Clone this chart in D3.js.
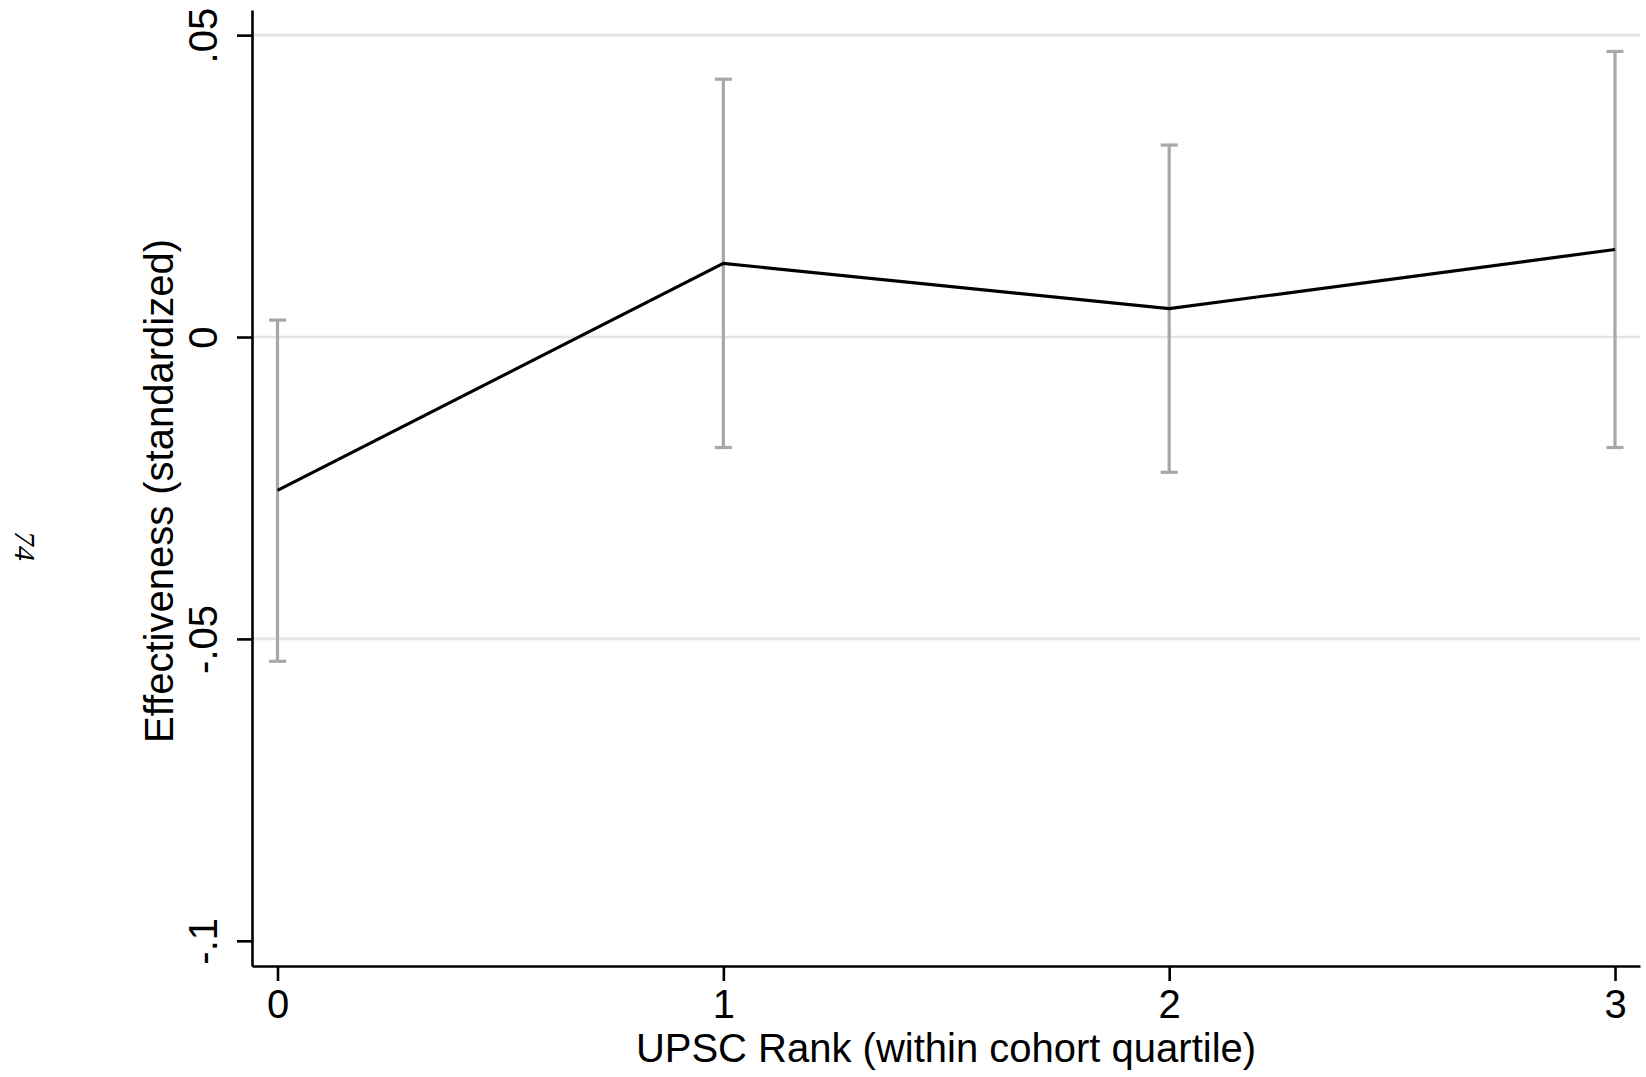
<!DOCTYPE html>
<html>
<head>
<meta charset="utf-8">
<script src="https://cdn.jsdelivr.net/npm/d3@7"></script>
<style>
  html, body { margin: 0; padding: 0; background: #fff; }
  svg { display: block; }
  text { font-family: "Liberation Sans", Arial, Helvetica, sans-serif; fill: #000; }
</style>
</head>
<body>
<svg id="chart" width="1646" height="1077"></svg>
<script>
// UPSC rank quartile (x) and estimated effectiveness with 95% CI
const quartiles = [0, 1, 2, 3];
const estimates = [-0.0254, 0.0122, 0.0047, 0.0145];
const ciLower   = [-0.0537, -0.0183, -0.0224, -0.0183];
const ciUpper   = [0.0028, 0.0427, 0.0318, 0.0473];

const yTickValues = [-0.1, -0.05, 0, 0.05];
const yTickLabels = ["-.1", "-.05", "0", ".05"];
const gridValues  = [-0.05, 0, 0.05];
const xTickValues = [0, 1, 2, 3];
const xTickLabels = ["0", "1", "2", "3"];

const xTitle = "UPSC Rank (within cohort quartile)";
const yTitle = "Effectiveness (standardized)";
const pageNumber = "74";

const svg = d3.select("#chart");

// plot region
const plotLeft = 252, plotRight = 1640, plotTop = 10, plotBottom = 966;

const x = d3.scaleLinear().domain([-0.0572, 3.056]).range([plotLeft, plotRight]);
const y = d3.scaleLinear().domain([-0.10417, 0.05416]).range([plotBottom, plotTop]);

// horizontal grid lines
svg.append("g")
  .selectAll("line")
  .data(gridValues)
  .join("line")
  .attr("x1", plotLeft).attr("x2", plotRight)
  .attr("y1", d => y(d)).attr("y2", d => y(d))
  .attr("stroke", "#e4e4e4")
  .attr("stroke-width", 2.6);

// confidence intervals
const rows = quartiles.map((q, i) => ({ q, est: estimates[i], lo: ciLower[i], hi: ciUpper[i] }));
const capHalf = 8.5;
const ci = svg.append("g").attr("stroke", "#a8a8a8").attr("stroke-width", 3.2).attr("fill", "none");
ci.selectAll("line.stem").data(rows).join("line").attr("class", "stem")
  .attr("x1", d => x(d.q)).attr("x2", d => x(d.q))
  .attr("y1", d => y(d.lo)).attr("y2", d => y(d.hi));
ci.selectAll("line.capHi").data(rows).join("line").attr("class", "capHi")
  .attr("x1", d => x(d.q) - capHalf).attr("x2", d => x(d.q) + capHalf)
  .attr("y1", d => y(d.hi)).attr("y2", d => y(d.hi));
ci.selectAll("line.capLo").data(rows).join("line").attr("class", "capLo")
  .attr("x1", d => x(d.q) - capHalf).attr("x2", d => x(d.q) + capHalf)
  .attr("y1", d => y(d.lo)).attr("y2", d => y(d.lo));

// point estimates connected
svg.append("path")
  .datum(rows)
  .attr("fill", "none")
  .attr("stroke", "#000")
  .attr("stroke-width", 3.2)
  .attr("d", d3.line().x(d => x(d.q)).y(d => y(d.est)));

// y axis
const yAxis = svg.append("g")
  .attr("transform", `translate(${plotLeft},0)`)
  .call(d3.axisLeft(y)
    .tickValues(yTickValues)
    .tickSize(15)
    .tickSizeOuter(0)
    .tickFormat((d, i) => yTickLabels[i]));
yAxis.select(".domain").attr("stroke", "#000").attr("stroke-width", 2.6);
yAxis.selectAll(".tick line").attr("stroke", "#000").attr("stroke-width", 2.6);
yAxis.selectAll(".tick text")
  .attr("x", null).attr("dy", null)
  .attr("text-anchor", "middle")
  .attr("transform", "translate(-35,0) rotate(-90)")
  .style("font-size", "40px");

// x axis
const xAxis = svg.append("g")
  .attr("transform", `translate(0,${plotBottom})`)
  .call(d3.axisBottom(x)
    .tickValues(xTickValues)
    .tickSize(15)
    .tickSizeOuter(0)
    .tickPadding(9)
    .tickFormat((d, i) => xTickLabels[i]));
xAxis.select(".domain").attr("stroke", "#000").attr("stroke-width", 2.6);
xAxis.selectAll(".tick line").attr("stroke", "#000").attr("stroke-width", 2.6);
xAxis.selectAll(".tick text").style("font-size", "40px");

// axis titles
svg.append("text")
  .attr("x", (plotLeft + plotRight) / 2)
  .attr("y", 1062)
  .attr("text-anchor", "middle")
  .style("font-size", "40px")
  .text(xTitle);

svg.append("text")
  .attr("transform", "translate(173,491) rotate(-90)")
  .attr("text-anchor", "middle")
  .style("font-size", "40px")
  .text(yTitle);

// page number in the margin
svg.append("text")
  .attr("transform", "translate(15,546) rotate(90)")
  .attr("text-anchor", "middle")
  .style("font-family", "'Liberation Serif', 'Times New Roman', serif")
  .style("font-style", "italic")
  .style("font-size", "30px")
  .text(pageNumber);
</script>
</body>
</html>
